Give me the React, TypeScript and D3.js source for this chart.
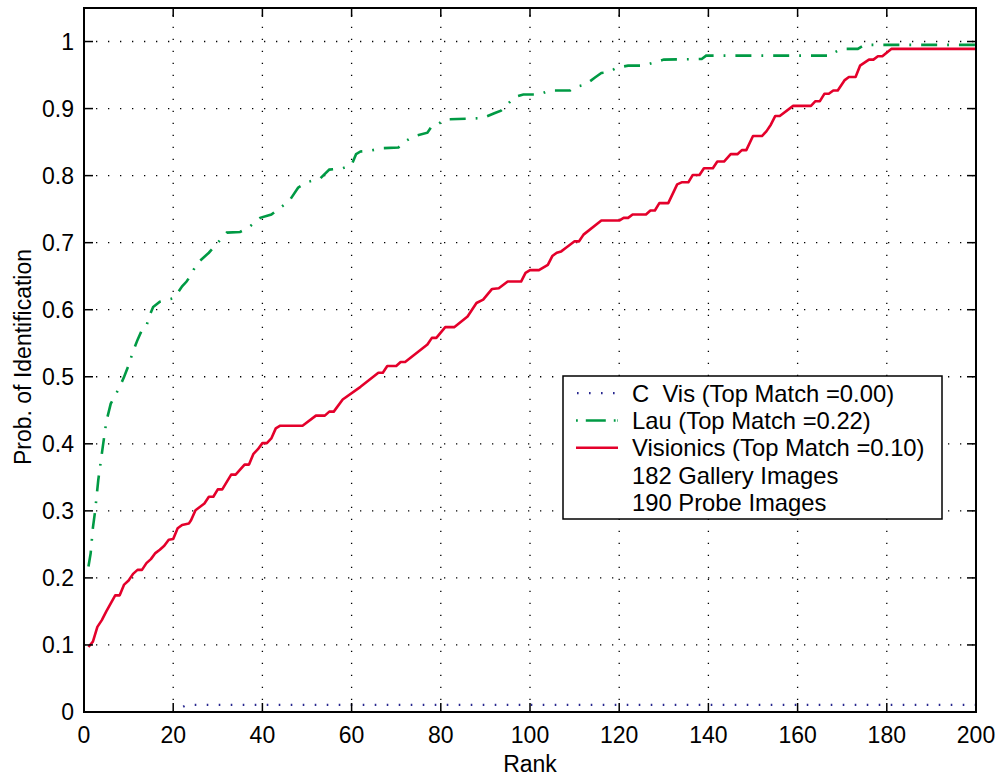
import React from "react";
import * as d3 from "d3";

const xTicks = [0, 20, 40, 60, 80, 100, 120, 140, 160, 180, 200];
const yTicks = [0, 0.1, 0.2, 0.3, 0.4, 0.5, 0.6, 0.7, 0.8, 0.9, 1];
const yTickLabels = ["0", "0.1", "0.2", "0.3", "0.4", "0.5", "0.6", "0.7", "0.8", "0.9", "1"];

const cvisRank = [1, 20, 23, 200];
const cvisValue = [0, 0, 0.0105, 0.0105];

const lauRank = [1, 1.5, 2, 2.5, 3.2, 4.2, 5, 6, 7, 8, 9, 10, 11, 12, 13, 14, 14.5, 15.5, 17, 20, 21, 22, 23, 24, 25, 26, 28, 30, 32, 35, 37, 39.5, 42, 46, 48, 50, 53, 55, 58, 60, 61, 62, 64, 67, 70.5, 72, 74, 77, 78, 79, 81, 86.5, 89.5, 92, 93.5, 94.5, 96.5, 98.5, 102, 104.5, 109, 110, 112.5, 114.5, 116, 117.5, 119.5, 122, 125.5, 127.5, 130, 138.5, 139.5, 167.5, 168, 170, 173.5, 175, 200];
const lauValue = [0.217, 0.237, 0.275, 0.3, 0.346, 0.395, 0.433, 0.46, 0.472, 0.485, 0.5, 0.517, 0.538, 0.555, 0.570, 0.575, 0.588, 0.604, 0.612, 0.617, 0.625, 0.635, 0.642, 0.652, 0.665, 0.673, 0.685, 0.700, 0.715, 0.716, 0.723, 0.737, 0.742, 0.762, 0.782, 0.790, 0.796, 0.809, 0.811, 0.816, 0.832, 0.836, 0.837, 0.841, 0.842, 0.851, 0.859, 0.864, 0.874, 0.875, 0.884, 0.885, 0.886, 0.893, 0.897, 0.903, 0.917, 0.921, 0.921, 0.927, 0.927, 0.932, 0.936, 0.946, 0.953, 0.954, 0.961, 0.964, 0.964, 0.968, 0.973, 0.974, 0.979, 0.979, 0.983, 0.989, 0.989, 0.995, 0.995];

const visRank = [1, 2, 3, 4, 5, 6, 7, 8, 9, 10, 11, 12, 13, 14, 15, 16, 17, 18, 19, 20, 21, 22, 23.5, 24, 25, 27, 28, 29, 30, 31, 33, 34, 36, 37, 38, 39, 40, 41, 42, 43, 44, 49, 52, 54, 55, 56, 58, 62, 66, 67, 68, 70, 71, 72, 77, 78, 79, 81, 83, 86, 87, 88, 89.5, 91.5, 93, 95, 98, 99, 100, 102, 104, 105, 106, 107, 108, 110, 111, 112, 116, 120, 121, 122, 123, 126, 127, 128, 129, 131, 133, 134, 135.5, 136.5, 138, 139, 141, 142, 143.5, 145, 146.5, 147.5, 148.5, 150, 152, 153, 154, 155, 156, 159, 163, 164, 165, 166, 167, 168, 169, 170.5, 171.5, 173, 174, 176, 177, 178, 179, 181, 200];
const visValue = [0.097, 0.105, 0.127, 0.137, 0.150, 0.162, 0.174, 0.174, 0.190, 0.196, 0.206, 0.212, 0.212, 0.222, 0.228, 0.237, 0.242, 0.248, 0.257, 0.258, 0.274, 0.279, 0.281, 0.286, 0.301, 0.311, 0.321, 0.321, 0.332, 0.332, 0.354, 0.354, 0.369, 0.369, 0.385, 0.392, 0.401, 0.401, 0.408, 0.423, 0.427, 0.427, 0.442, 0.442, 0.448, 0.448, 0.466, 0.485, 0.506, 0.506, 0.516, 0.516, 0.522, 0.522, 0.548, 0.558, 0.558, 0.574, 0.574, 0.590, 0.600, 0.610, 0.615, 0.631, 0.632, 0.642, 0.642, 0.655, 0.659, 0.659, 0.667, 0.680, 0.685, 0.687, 0.692, 0.702, 0.702, 0.712, 0.733, 0.733, 0.737, 0.737, 0.742, 0.742, 0.748, 0.748, 0.759, 0.759, 0.787, 0.790, 0.790, 0.801, 0.801, 0.811, 0.811, 0.821, 0.821, 0.832, 0.832, 0.838, 0.838, 0.859, 0.859, 0.866, 0.876, 0.889, 0.889, 0.904, 0.904, 0.911, 0.911, 0.922, 0.922, 0.927, 0.927, 0.942, 0.947, 0.947, 0.964, 0.973, 0.973, 0.978, 0.978, 0.989, 0.989];

const legendLabels = [
  "C  Vis (Top Match =0.00)",
  "Lau (Top Match =0.22)",
  "Visionics (Top Match =0.10)",
  "182 Gallery Images",
  "190 Probe Images",
];

const FONT = "'Liberation Sans', Arial, Helvetica, sans-serif";
const FS = 23;
const LFS = 23.8;
const BLUE = "#27278f";
const GREEN = "#009a44";
const RED = "#e4002b";

export default function App() {
  const W = 1000, H = 780;
  const left = 84, right = 976, top = 8, bottom = 712;
  const x = d3.scaleLinear().domain([0, 200]).range([left, right]);
  const y = d3.scaleLinear().domain([0, 1.05]).range([bottom, top]);
  const line = d3.line<[number, number]>().x((d) => x(d[0])).y((d) => y(d[1]));
  const zip = (a: number[], b: number[]) => a.map((v, i) => [v, b[i]] as [number, number]);
  const tickLen = 9;

  const lx0 = 563, ly0 = 376, lx1 = 942, ly1 = 519;
  const rowBase = (i: number) => 401.7 + 27.3 * i;
  const rowMid = (i: number) => rowBase(i) - 8.5;

  return (
    <svg width={W} height={H} style={{ position: "absolute", left: 0, top: 0, background: "#fff" }} fontFamily={FONT}>
      <rect x={0} y={0} width={W} height={H} fill="#fff" />
      {/* grid */}
      <g stroke="#000" strokeWidth={1.3} strokeDasharray="1.3,10.7">
        {xTicks.slice(1, -1).map((t) => (
          <line key={"gx" + t} x1={x(t)} x2={x(t)} y1={bottom} y2={top} />
        ))}
        {yTicks.slice(1).map((t) => (
          <line key={"gy" + t} x1={left} x2={right} y1={y(t)} y2={y(t)} />
        ))}
      </g>
      {/* data */}
      <path d={line(zip(cvisRank, cvisValue)) || ""} fill="none" stroke={BLUE} strokeWidth={2.2} strokeDasharray="1.6,10.4" />
      <path d={line(zip(lauRank, lauValue)) || ""} fill="none" stroke={GREEN} strokeWidth={2.6} strokeDasharray="16,10,1.8,10" />
      <path d={line(zip(visRank, visValue)) || ""} fill="none" stroke={RED} strokeWidth={2.6} strokeLinejoin="round" />
      {/* axes box */}
      <rect x={left} y={top} width={right - left} height={bottom - top} fill="none" stroke="#000" strokeWidth={2} />
      <g stroke="#000" strokeWidth={1.5}>
        {xTicks.map((t) => (
          <g key={"tx" + t}>
            <line x1={x(t)} x2={x(t)} y1={bottom} y2={bottom - tickLen} />
            <line x1={x(t)} x2={x(t)} y1={top} y2={top + tickLen} />
          </g>
        ))}
        {yTicks.map((t) => (
          <g key={"ty" + t}>
            <line x1={left} x2={left + tickLen} y1={y(t)} y2={y(t)} />
            <line x1={right} x2={right - tickLen} y1={y(t)} y2={y(t)} />
          </g>
        ))}
      </g>
      <g fontSize={FS} fill="#000">
        {xTicks.map((t) => (
          <text key={"lx" + t} x={x(t)} y={743} textAnchor="middle">{t}</text>
        ))}
        {yTicks.map((t, i) => (
          <text key={"ly" + t} x={74} y={y(t) + 8.2} textAnchor="end">{yTickLabels[i]}</text>
        ))}
        <text x={(left + right) / 2} y={771.5} textAnchor="middle">Rank</text>
        <text transform={`translate(31, ${(top + bottom) / 2 - 3}) rotate(-90)`} textAnchor="middle">Prob. of Identification</text>
      </g>
      {/* legend */}
      <rect x={lx0} y={ly0} width={lx1 - lx0} height={ly1 - ly0} fill="#fff" stroke="#000" strokeWidth={1.5} />
      <line x1={577} x2={618} y1={rowMid(0)} y2={rowMid(0)} stroke={BLUE} strokeWidth={2.2} strokeDasharray="1.6,10.4" />
      <line x1={576} x2={618} y1={rowMid(1)} y2={rowMid(1)} stroke={GREEN} strokeWidth={2.6} strokeDasharray="1.8,8,20,8,1.8" />
      <line x1={576} x2={618} y1={rowMid(2)} y2={rowMid(2)} stroke={RED} strokeWidth={2.6} />
      <g fontSize={LFS} fill="#000">
        {legendLabels.map((s, i) => (
          <text key={"lg" + i} x={632} y={rowBase(i)} style={{ whiteSpace: "pre" }}>{s}</text>
        ))}
      </g>
    </svg>
  );
}
